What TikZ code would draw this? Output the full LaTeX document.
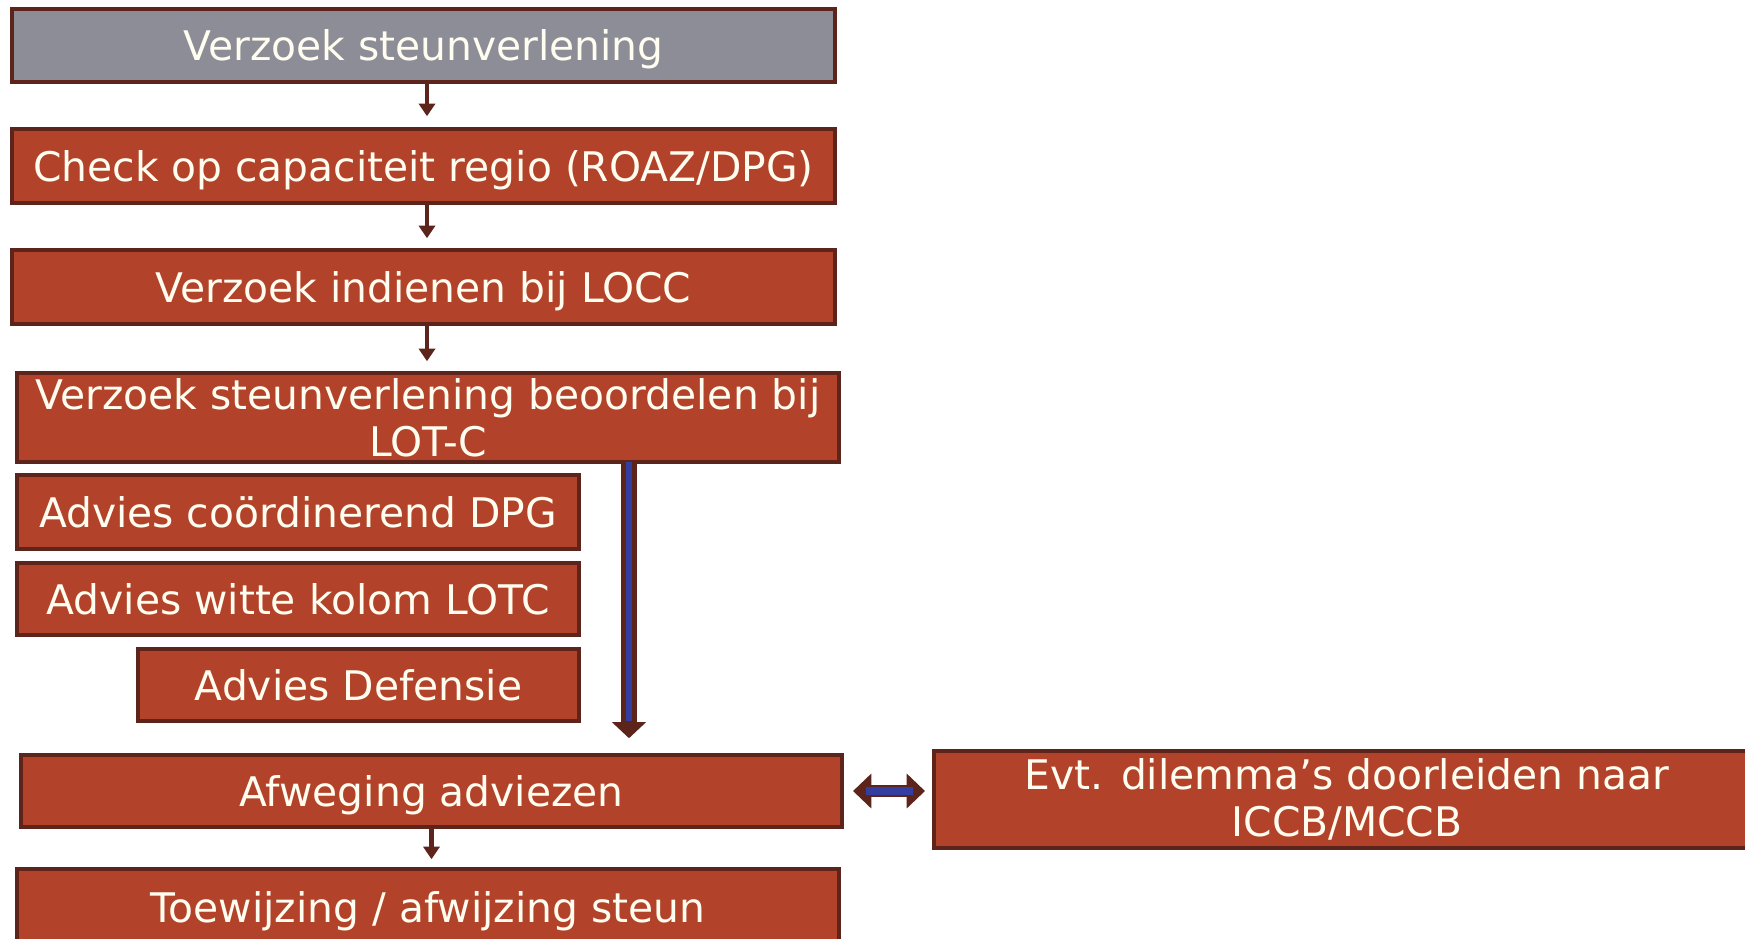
\documentclass[tikz,border=0pt]{standalone}
\usepackage{fontspec}
\setmainfont{DejaVu Sans}
\usepackage{tikz}
\usetikzlibrary{arrows.meta}

\definecolor{boxred}{RGB}{178,67,42}
\definecolor{boxedge}{RGB}{92,36,26}
\definecolor{boxgrey}{RGB}{140,141,150}
\definecolor{flowblue}{RGB}{52,62,160}
\definecolor{txtwhite}{RGB}{255,253,240}

\begin{document}
\begin{tikzpicture}[x=.01cm, y=-.01cm, font=\fontsize{11.6}{13.3}\selectfont,
  stap/.style={draw=boxedge, line width=1pt, fill=boxred, text=txtwhite, align=center, inner sep=0pt},
  eenregel/.style={stap, text height=11.4pt, text depth=2.6pt},
  pijl/.style={-{Triangle[width=4.6pt,length=3.6pt]}, draw=boxedge, line width=1.4pt},
  dikpijl/.style={draw=boxedge, line width=4.3pt, -{Triangle[width=9.5pt,length=4.6pt]}},
  dubbelpijl/.style={draw=boxedge, line width=3.6pt, {Triangle[width=9.6pt,length=5.2pt]}-{Triangle[width=9.6pt,length=5.2pt]}}]

\useasboundingbox (0,0) rectangle (1745,938);
\clip (0,0) rectangle (1745,938);

\node[eenregel, fill=boxgrey, minimum width=8.23cm, minimum height=.73cm] (verzoek) at (423.5,45.5) {Verzoek steunverlening};
\node[eenregel, minimum width=8.23cm, minimum height=.74cm] (check) at (423.5,166) {Check op capaciteit regio (ROAZ/DPG)};
\node[eenregel, minimum width=8.23cm, minimum height=.74cm] (locc) at (423.5,287) {Verzoek indienen bij LOCC};
\node[stap, minimum width=8.22cm, minimum height=.89cm] (beoordelen) at (428,417.5) {Verzoek steunverlening beoordelen bij\\LOT-C};
\node[eenregel, minimum width=5.62cm, minimum height=.74cm] (dpg) at (298,512) {Advies coördinerend DPG};
\node[eenregel, minimum width=5.62cm, minimum height=.72cm] (lotc) at (298,599) {Advies witte kolom LOTC};
\node[eenregel, minimum width=4.41cm, minimum height=.72cm] (defensie) at (358.5,685) {Advies Defensie};
\node[eenregel, minimum width=8.21cm, minimum height=.72cm] (afweging) at (431.5,791) {Afweging adviezen};
\node[stap, minimum width=8.26cm, minimum height=.97cm] (dilemma) at (1347,799.5) {Evt. dilemma’s doorleiden naar\\ICCB/MCCB};
\node[eenregel, minimum width=8.22cm, minimum height=.76cm] (besluit) at (428,907) {Toewijzing / afwijzing steun};

\coordinate (route) at (629,462);

\draw[pijl, shorten >=.11cm] ([xshift=.035cm]verzoek.south) -- ([xshift=.035cm]verzoek.south |- check.north);
\draw[pijl, shorten >=.1cm] ([xshift=.035cm]check.south) -- ([xshift=.035cm]check.south |- locc.north);
\draw[pijl, shorten >=.1cm] ([xshift=.035cm]locc.south) -- ([xshift=.035cm]locc.south |- beoordelen.north);
\draw[pijl, shorten >=.08cm] (afweging.south) -- (afweging.south |- besluit.north);

\draw[dikpijl, shorten >=.15cm] (route) -- (route |- afweging.north);
\draw[flowblue, line width=1.6pt, shorten >=.32cm] (route) -- (route |- afweging.north);

\draw[dubbelpijl, shorten <=.09cm, shorten >=.07cm] (afweging.east) -- (afweging.east -| dilemma.west);
\draw[flowblue, line width=2.4pt, shorten <=.22cm, shorten >=.19cm] (afweging.east) -- (afweging.east -| dilemma.west);

\end{tikzpicture}
\end{document}
